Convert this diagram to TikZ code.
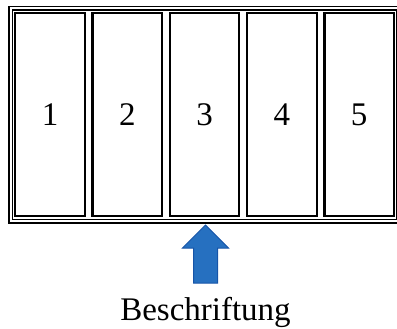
\documentclass[tikz,border=0pt]{standalone}
\usepackage{fontspec}
\setmainfont{Liberation Serif}
\usetikzlibrary{positioning}

\definecolor{arrowblue}{RGB}{38,112,192}
\definecolor{arrowedge}{RGB}{22,84,168}

\begin{document}
\begin{tikzpicture}[
    x=1pt, y=-1pt,
    frame/.style={draw, double, double distance=2.2pt, line width=1.4pt,
                  rectangle, inner sep=0pt},
    panel/.style={draw, line width=2.2pt, rectangle, inner sep=0pt,
                  minimum width=69.5pt, minimum height=203pt,
                  font=\fontsize{33}{36}\selectfont},
    pointer/.style={fill=arrowblue, draw=arrowedge, line width=1pt,
                    line join=miter},
  ]
    \useasboundingbox (0,0) rectangle (397,329);

    % ---- outer double frame ----
    \node[frame, minimum width=387.2pt, minimum height=212.6pt]
      (rahmen) at (204.4,114.7) {};

    % ---- five panels ----
    \foreach \i in {1,...,5} {
      \node[panel] (p\i) at ({50+77.3*(\i-1)},114.5) {\i};
    }

    % ---- arrow and label ----
    \node[font=\fontsize{33}{36}\selectfont, inner sep=0pt,
          anchor=base] (label) at (205.5,320) {Beschriftung};
    \coordinate (tip) at (205.5,225);
    \draw[pointer] (tip) -- ++(23,23) -- ++(-11,0) -- ++(0,35)
      -- ++(-24,0) -- ++(0,-35) -- ++(-11,0) -- cycle;
  \end{tikzpicture}
\end{document}
